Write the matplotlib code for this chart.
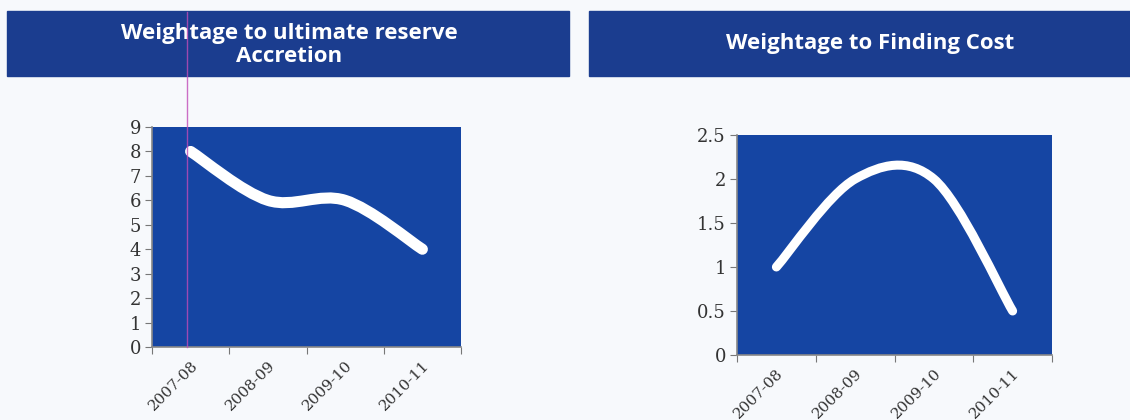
import numpy as np
import matplotlib.pyplot as plt
from matplotlib.path import Path
from matplotlib.patches import PathPatch, Rectangle
from matplotlib.lines import Line2D

years = ['2007-08', '2008-09', '2009-10', '2010-11']
reserve_weight = [8, 6, 6, 4]
finding_weight = [1, 2, 2, 0.5]

title_left = 'Weightage to ultimate reserve\nAccretion'
title_right = 'Weightage to Finding Cost'

header_col = '#1b3d8f'
plot_col = '#1545a3'
bg_col = '#f7f9fc'


def smooth_path(xs, ys):
    # Excel style smoothed line: cubic bezier segments, tension 1/6
    pts = np.column_stack([xs, ys]).astype(float)
    n = len(pts)
    verts = [pts[0]]
    codes = [Path.MOVETO]
    for i in range(n - 1):
        p_prev = pts[max(i - 1, 0)]
        p0 = pts[i]
        p1 = pts[i + 1]
        p_next = pts[min(i + 2, n - 1)]
        c1 = p0 + (p1 - p_prev) / 6.0
        c2 = p1 - (p_next - p0) / 6.0
        verts += [c1, c2, p1]
        codes += [Path.CURVE4] * 3
    return Path(verts, codes)


def draw_panel(ax, values, ymax, ystep, lw, fmt):
    ax.set_facecolor(plot_col)
    xs = np.arange(len(values)) + 0.5
    patch = PathPatch(smooth_path(xs, values), facecolor='none', edgecolor='white',
                      lw=lw, capstyle='round', joinstyle='round', zorder=3)
    ax.add_patch(patch)
    ax.set_xlim(0, len(values))
    ax.set_ylim(0, ymax)
    yt = np.arange(0, ymax + ystep / 2, ystep)
    ax.set_yticks(yt)
    ax.set_yticklabels([fmt(v) for v in yt], family='DejaVu Serif', fontsize=13,
                       color='#333333')
    ax.set_xticks(np.arange(0, len(values) + 1))
    ax.set_xticklabels([])
    ax.set_xticks(xs, minor=True)
    ax.set_xticklabels(years, minor=True, rotation=45, ha='right', va='top',
                       rotation_mode='anchor', family='DejaVu Serif', fontsize=11,
                       color='#333333')
    ax.tick_params(axis='x', which='minor', length=0, pad=8)
    ax.tick_params(axis='x', which='major', length=5, color='#777777')
    ax.tick_params(axis='y', length=5, color='#777777', pad=3)
    for s in ['top', 'right']:
        ax.spines[s].set_visible(False)
    for s in ['left', 'bottom']:
        ax.spines[s].set_color('#888888')
        ax.spines[s].set_linewidth(1.2)


fig = plt.figure(figsize=(11.3, 4.2), dpi=100)
fig.patch.set_facecolor(bg_col)

# header bars
fig.patches.append(Rectangle((7 / 1130, 1 - 76 / 420), 562 / 1130, 65 / 420,
                             transform=fig.transFigure, color=header_col, zorder=0))
fig.patches.append(Rectangle((589 / 1130, 1 - 76 / 420), 545 / 1130, 65 / 420,
                             transform=fig.transFigure, color=header_col, zorder=0))
fig.text(289 / 1130, 1 - 45 / 420, title_left, ha='center', va='center', color='white',
         fontsize=16, fontweight='bold', family='Open Sans', linespacing=1.1)
fig.text(870 / 1130, 1 - 44 / 420, title_right, ha='center', va='center', color='white',
         fontsize=16, fontweight='bold', family='Open Sans')

ax1 = fig.add_axes([152 / 1130, 1 - 347 / 420, 309 / 1130, 220 / 420])
draw_panel(ax1, reserve_weight, 9, 1, 8, lambda v: f'{v:g}')

ax2 = fig.add_axes([737 / 1130, 1 - 355 / 420, 315 / 1130, 220 / 420])
draw_panel(ax2, finding_weight, 2.5, 0.5, 6.5, lambda v: f'{v:g}')

# faint scan line through the left panel
fig.add_artist(Line2D([187 / 1130, 187 / 1130], [1 - 347 / 420, 1 - 12 / 420],
                      transform=fig.transFigure, color='#c04bb8', lw=1.0, alpha=0.8,
                      zorder=5))

fig.savefig('out.png', dpi=100, facecolor=fig.get_facecolor())
